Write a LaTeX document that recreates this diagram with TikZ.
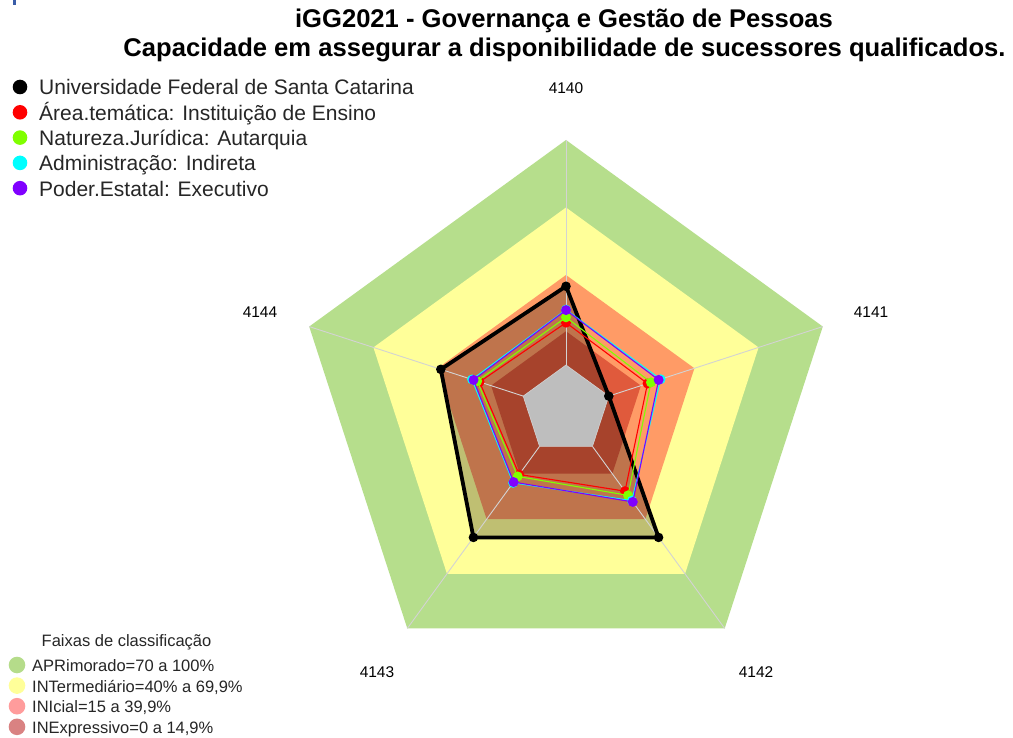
\documentclass[tikz,border=0pt]{standalone}
\usepackage{fontspec}
\setmainfont{Liberation Sans}
\definecolor{bandgreen}{HTML}{B6DE8C}
\definecolor{bandyellow}{HTML}{FFFF99}
\definecolor{bandorange}{HTML}{FF9B66}
\definecolor{bandred}{HTML}{E05A3C}
\definecolor{centergrey}{HTML}{BEBEBE}
\definecolor{axisgrey}{HTML}{D3D3D3}
\definecolor{serred}{HTML}{FF0000}
\definecolor{sergreen}{HTML}{80FF00}
\definecolor{sercyan}{HTML}{00FFFF}
\definecolor{serpurple}{HTML}{8000FF}
\definecolor{legA}{HTML}{B5DC8A}
\definecolor{legB}{HTML}{FFFF99}
\definecolor{legC}{HTML}{FF9C9C}
\definecolor{legD}{HTML}{D98282}
\definecolor{markblue}{HTML}{3A5DA8}
\tikzset{
  titletext/.style={font=\fontsize{25.6}{30}\selectfont\bfseries, anchor=base, inner sep=0pt},
  legtext/.style={font=\fontsize{21}{24}\selectfont, anchor=base west, inner sep=0pt, text=black!85},
  bandtext/.style={font=\fontsize{16.5}{19}\selectfont, anchor=base west, inner sep=0pt, text=black!85},
  axislabel/.style={font=\fontsize{15.5}{18}\selectfont, anchor=center, inner sep=0pt},
  axisline/.style={axisgrey, line width=0.9pt},
  ufscline/.style={black, line width=3.8pt, line join=round},
  serline/.style={line width=1.1pt, line join=round},
}
\begin{document}
\begin{tikzpicture}[x=1pt,y=-1pt]
\useasboundingbox (0,0) rectangle (1013,738);
\fill[white] (0,0) rectangle (1013,738);
\fill[markblue] (13,0) rectangle (15.5,5);

% title
\node[titletext] (t1) at (564,28) {iGG2021 - Governança e Gestão de Pessoas};
\node[titletext] (t2) at (564.5,57) {Capacidade em assegurar a disponibilidade de sucessores qualificados.};

\begin{scope}[shift={(566,410)}]
  % classification bands
  \foreach \r/\c in {270/bandgreen, 202.5/bandyellow, 135/bandorange, 78.75/bandred}
    \fill[\c] (-90:\r) -- (-18:\r) -- (54:\r) -- (126:\r) -- (198:\r) -- cycle;
  % axes
  \foreach \a [count=\i from 0] in {-90,-18,54,126,198} {
    \coordinate (n\i) at (\a:45);
    \coordinate (o\i) at (\a:270);
  }
  % UFSC data
  \foreach \a/\v [count=\i from 0] in {-90/35, -18/0, 54/50, 126/50, 198/38.5}
    \coordinate (u\i) at (\a:{45+2.25*\v});
  \fill[black, opacity=0.25] (u0) -- (u1) -- (u2) -- (u3) -- (u4) -- cycle;
  \foreach \i in {0,...,4} \draw[axisline] (n\i) -- (o\i);
  \fill[centergrey] (n0) -- (n1) -- (n2) -- (n3) -- (n4) -- cycle;
  \draw[axisgrey, line width=0.6pt] (n0) -- (n1) -- (n2) -- (n3) -- (n4) -- cycle;

  % other series
  \foreach \a/\v [count=\i from 0] in {-90/18.8, -18/18.1, 54/24.6, 126/15.4, 198/20.4}
    \coordinate (r\i) at (\a:{45+2.25*\v});
  \foreach \a/\v [count=\i from 0] in {-90/21.2, -18/19.7, 54/26.9, 126/16.5, 198/21.5}
    \coordinate (g\i) at (\a:{45+2.25*\v});
  \foreach \a/\v [count=\i from 0] in {-90/24.6, -18/24.2, 54/29.8, 126/20.0, 198/23.9}
    \coordinate (c\i) at (\a:{45+2.25*\v});
  \foreach \a/\v [count=\i from 0] in {-90/24.4, -18/23.3, 54/30.5, 126/19.6, 198/23.2}
    \coordinate (p\i) at (\a:{45+2.25*\v});

  \draw[ufscline] (u0) -- (u1) -- (u2) -- (u3) -- (u4) -- cycle;
  \foreach \i in {0,...,4} \fill[black] (u\i) circle (4.8);

  \draw[serline, serred] (r0) -- (r1) -- (r2) -- (r3) -- (r4) -- cycle;
  \foreach \i in {0,...,4} \fill[serred] (r\i) circle (5);
  \draw[serline, sergreen] (g0) -- (g1) -- (g2) -- (g3) -- (g4) -- cycle;
  \foreach \i in {0,...,4} \fill[sergreen] (g\i) circle (5);
  \draw[serline, sercyan] (c0) -- (c1) -- (c2) -- (c3) -- (c4) -- cycle;
  \foreach \i in {0,...,4} \fill[sercyan] (c\i) circle (5);
  \draw[serline, serpurple] (p0) -- (p1) -- (p2) -- (p3) -- (p4) -- cycle;
  \foreach \i in {0,...,4} \fill[serpurple] (p\i) circle (5);
\end{scope}

% axis labels
\node[axislabel] (l0) at (566,88) {4140};
\node[axislabel] (l1) at (871,312) {4141};
\node[axislabel] (l2) at (756,672) {4142};
\node[axislabel] (l3) at (377,672) {4143};
\node[axislabel] (l4) at (260,312) {4144};

% series legend
\foreach \c/\t [count=\i from 0] in {black/Universidade Federal de Santa Catarina,
    serred/Área.temática: Instituição de Ensino,
    sergreen/Natureza.Jurídica: Autarquia,
    sercyan/Administração: Indireta,
    serpurple/Poder.Estatal: Executivo} {
  \fill[\c] (20,{87+25.3*\i}) circle (7.3);
  \node[legtext] (leg\i) at (39,{87+25.3*\i+8}) {\t};
}

% band legend
\node[font=\fontsize{16.5}{19}\selectfont, anchor=base, inner sep=0pt, text=black!85] (bandtitle) at (126.5,646) {Faixas de classificação};
\foreach \c/\t [count=\i from 0] in {{legA/APRimorado=70 a 100\%},
    {legB/INTermediário=40\% a 69,9\%},
    {legC/INIcial=15 a 39,9\%},
    {legD/INExpressivo=0 a 14,9\%}} {
  \fill[\c] (17,{665+20.6*\i}) circle (8.3);
  \node[bandtext] (band\i) at (32,{665+20.6*\i+6.5}) {\t};
}
\end{tikzpicture}
\end{document}
